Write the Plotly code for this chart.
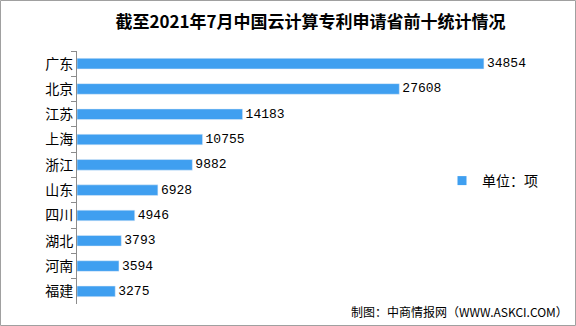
import plotly.graph_objects as go

categories = ["广东", "北京", "江苏", "上海", "浙江", "山东", "四川", "湖北", "河南", "福建"]
values = [34854, 27608, 14183, 10755, 9882, 6928, 4946, 3793, 3594, 3275]
series_name = "单位：项"
title_text = "截至2021年7月中国云计算专利申请省前十统计情况"
footer_text = "制图：中商情报网（WWW.ASKCI.COM）"

W, H = 576, 326
ml, mr, mt, mb = 77, 32, 51, 22
pw, ph = W - ml - mr, H - mt - mb
bar_color = "#3F9FF0"

fig = go.Figure()
fig.add_trace(go.Bar(
    y=categories, x=values, orientation="h", name=series_name,
    marker=dict(color=bar_color), width=0.42,
    text=[str(v) for v in values], textposition="outside", constraintext="none",
    textfont=dict(family="Liberation Mono, DejaVu Sans Mono", size=13, color="#000"),
    cliponaxis=False, showlegend=False,
))
fig.add_trace(go.Scatter(
    x=[None], y=[None], mode="markers", name=series_name,
    marker=dict(symbol="square", size=9, color=bar_color), showlegend=True,
))

fig.update_layout(
    width=W, height=H, margin=dict(l=ml, r=mr, t=mt, b=mb),
    paper_bgcolor="white", plot_bgcolor="white",
    title=dict(text="<b>" + title_text + "</b>", x=0.5, xref="paper", xanchor="center",
               y=1 - 22 / H, yanchor="middle",
               font=dict(family="Noto Sans CJK SC", size=17, color="#000")),
    xaxis=dict(range=[0, 40000], showgrid=False, zeroline=False, showticklabels=False,
               ticks="", showline=False),
    yaxis=dict(autorange="reversed", showline=True, linecolor="#8c8c8c", linewidth=1,
               ticks="outside", ticklen=5, tickcolor="#8c8c8c", tickson="boundaries",
               tickfont=dict(family="Noto Sans CJK SC", size=14, color="#000"),
               showgrid=False, categoryorder="array", categoryarray=categories),
    legend=dict(x=(442 - ml) / pw, xanchor="left", y=1 - (181 - mt) / ph, yanchor="middle",
                font=dict(family="Noto Sans CJK SC", size=14, color="#000"),
                bgcolor="rgba(0,0,0,0)", itemwidth=30),
    showlegend=True,
)

fig.add_annotation(text=footer_text, xref="paper", yref="paper",
                   x=1 + (570 - W + mr) / pw, xanchor="right",
                   y=-(311 - mt - ph) / ph, yanchor="middle", showarrow=False,
                   font=dict(family="Noto Sans CJK SC", size=12, color="#000"))

fig.add_shape(type="rect", xref="paper", yref="paper",
              x0=-(ml - 0.5) / pw, x1=1 + (mr - 0.5) / pw,
              y0=-(mb - 0.5) / ph, y1=1 + (mt - 0.5) / ph,
              line=dict(color="#a0a0a0", width=1), fillcolor="rgba(0,0,0,0)", layer="below")

fig.write_html("out.html")
